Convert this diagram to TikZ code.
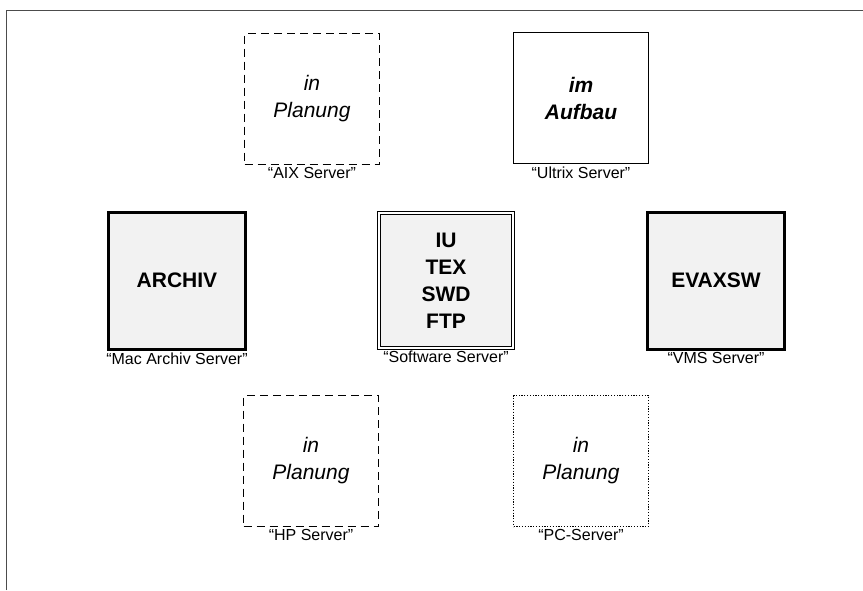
\documentclass[tikz,border=0pt]{standalone}
\usepackage{fontspec}
\setmainfont{Liberation Sans}
\usepackage{tikz}
\usetikzlibrary{positioning}

\begin{document}
\begin{tikzpicture}[x=1pt, y=-1pt,
    server/.style={draw, rectangle, minimum width=135pt, minimum height=131pt, inner sep=0pt,
      align=center, font=\fontsize{21}{27}\selectfont},
    plan/.style={server, line width=1.3pt, dash pattern=on 8pt off 5pt},
    live/.style={server, minimum width=137pt, minimum height=137pt, line width=3pt, fill=black!5,
      font=\fontsize{21}{27}\selectfont\bfseries},
    caption/.style={inner sep=1pt, font=\fontsize{16}{18}\selectfont}]
        \useasboundingbox (0,0) rectangle (863,590);
        \draw[line width=1pt, black!70] (6,590) -- (6,10) -- (863,10);
        % upper row
        \node[plan] (aix) at (312,99) {\itshape in\\\itshape Planung};
        \node[server, line width=1.5pt] (ultrix) at (581,98) {\bfseries\itshape im\\\bfseries\itshape Aufbau};
        % middle row
        \node[live] (archiv) at (177,280.5) {ARCHIV};
        \node[live, minimum width=134.5pt, minimum height=134.5pt, line width=1.1pt, double, double distance=2.2pt] (software) at (446,280.5) {IU\\TEX\\SWD\\FTP};
        \node[live] (evaxsw) at (716,280.5) {EVAXSW};
        % lower row
        \node[plan] (hp) at (311,461) {\itshape in\\\itshape Planung};
        \node[server, line width=1.4pt, dash pattern=on 1.2pt off 1.6pt] (pc) at (581,461) {\itshape in\\\itshape Planung};
        % names below the boxes
        \node[caption, below=1pt of aix] (aixname) {``AIX Server''};
        \node[caption, below=1pt of ultrix] (ultrixname) {``Ultrix Server''};
        \node[caption, below=1pt of archiv] (archivname) {``Mac Archiv Server''};
        \node[caption, below=1pt of software] (softwarename) {``Software Server''};
        \node[caption, below=1pt of evaxsw] (evaxswname) {``VMS Server''};
        \node[caption, below=1pt of hp] (hpname) {``HP Server''};
        \node[caption, below=1pt of pc] (pcname) {``PC-Server''};
\end{tikzpicture}
\end{document}
